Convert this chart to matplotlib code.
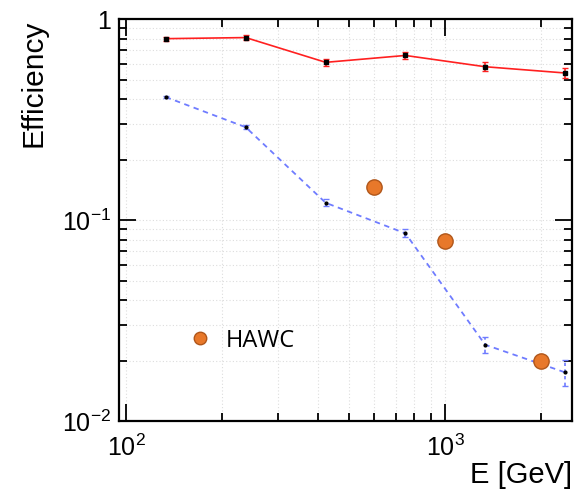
import numpy as np
import matplotlib
matplotlib.use("Agg")
import matplotlib.pyplot as plt
from matplotlib.lines import Line2D
from matplotlib.ticker import FixedLocator, FixedFormatter, LogLocator, NullFormatter

plt.rcParams['font.family'] = 'Liberation Sans'
plt.rcParams['mathtext.fontset'] = 'custom'
plt.rcParams['mathtext.rm'] = 'Liberation Sans'
plt.rcParams['mathtext.it'] = 'Liberation Sans:italic'

# energy bins [GeV]
energy = [133, 237, 422, 750, 1334, 2371]

# efficiency, first selection (red)
eff_a = [0.80, 0.81, 0.61, 0.66, 0.58, 0.54]
err_a = [0.02, 0.02, 0.025, 0.025, 0.03, 0.03]

# efficiency, second selection (blue)
eff_b = [0.41, 0.29, 0.122, 0.086, 0.024, 0.0175]
err_b = [0.004, 0.006, 0.005, 0.004, 0.0022, 0.0026]

# HAWC reference points
hawc_e = [600, 1000, 2000]
hawc_eff = [0.146, 0.079, 0.020]

fig = plt.figure(figsize=(5.78, 4.92), dpi=100)
ax = fig.add_axes([0.206, 0.144, 0.784, 0.817])

ax.errorbar(energy, eff_a, yerr=err_a, color='#ff2020', lw=1.2, capsize=2, elinewidth=1.2,
            marker='s', ms=3, mfc='black', mec='black', zorder=3)
eb = ax.errorbar(energy, eff_b, yerr=err_b, color='#6f7cff', lw=1.3, ls=(0, (3, 2.5)),
                 capsize=2, elinewidth=1.2, marker='o', ms=2, mfc='black', mec='black', zorder=3)
eb[-1][0].set_linestyle((0, (2, 2)))

ax.plot(hawc_e, hawc_eff, 'o', ms=11, color='#e8782a', mec='#b0561a', mew=1.0, ls='none', zorder=4)

ax.set_xscale('log')
ax.set_yscale('log')
ax.set_xlim(95, 2500)
ax.set_ylim(0.01, 1)

ax.xaxis.set_major_locator(FixedLocator([100, 1000]))
ax.xaxis.set_major_formatter(FixedFormatter(['$10^{2}$', '$10^{3}$']))
ax.xaxis.set_minor_locator(LogLocator(base=10, subs=np.arange(2, 10)))
ax.xaxis.set_minor_formatter(NullFormatter())
ax.yaxis.set_major_locator(FixedLocator([0.01, 0.1, 1]))
ax.yaxis.set_major_formatter(FixedFormatter(['$10^{-2}$', '$10^{-1}$', '1']))
ax.yaxis.set_minor_locator(LogLocator(base=10, subs=np.arange(2, 10)))
ax.yaxis.set_minor_formatter(NullFormatter())

ax.tick_params(which='both', direction='in', top=True, right=True, width=1.3, labelsize=18)
ax.tick_params(which='major', length=12)
ax.tick_params(which='minor', length=6)
ax.tick_params(axis='x', pad=10)
ax.tick_params(axis='y', pad=6)
for s in ax.spines.values():
    s.set_linewidth(1.6)

ax.grid(True, which='both', color='#dddddd', ls=(0, (1, 2)), lw=0.8)
ax.set_axisbelow(True)

ax.set_ylabel('Efficiency', fontsize=21.5, loc='top', labelpad=10)
ax.set_xlabel('E [GeV]', fontsize=21, loc='right', labelpad=0)

hawc_handle = Line2D([], [], marker='o', ls='none', ms=9, color='#e8782a', mec='#b0561a', mew=1.0)
ax.legend(handles=[hawc_handle], labels=['HAWC'], loc='center left',
          bbox_to_anchor=(0.11, 0.2), frameon=False, handlelength=0.8, handletextpad=0.7,
          prop={'family': 'Open Sans', 'size': 17})

fig.savefig('out.png', dpi=100)
